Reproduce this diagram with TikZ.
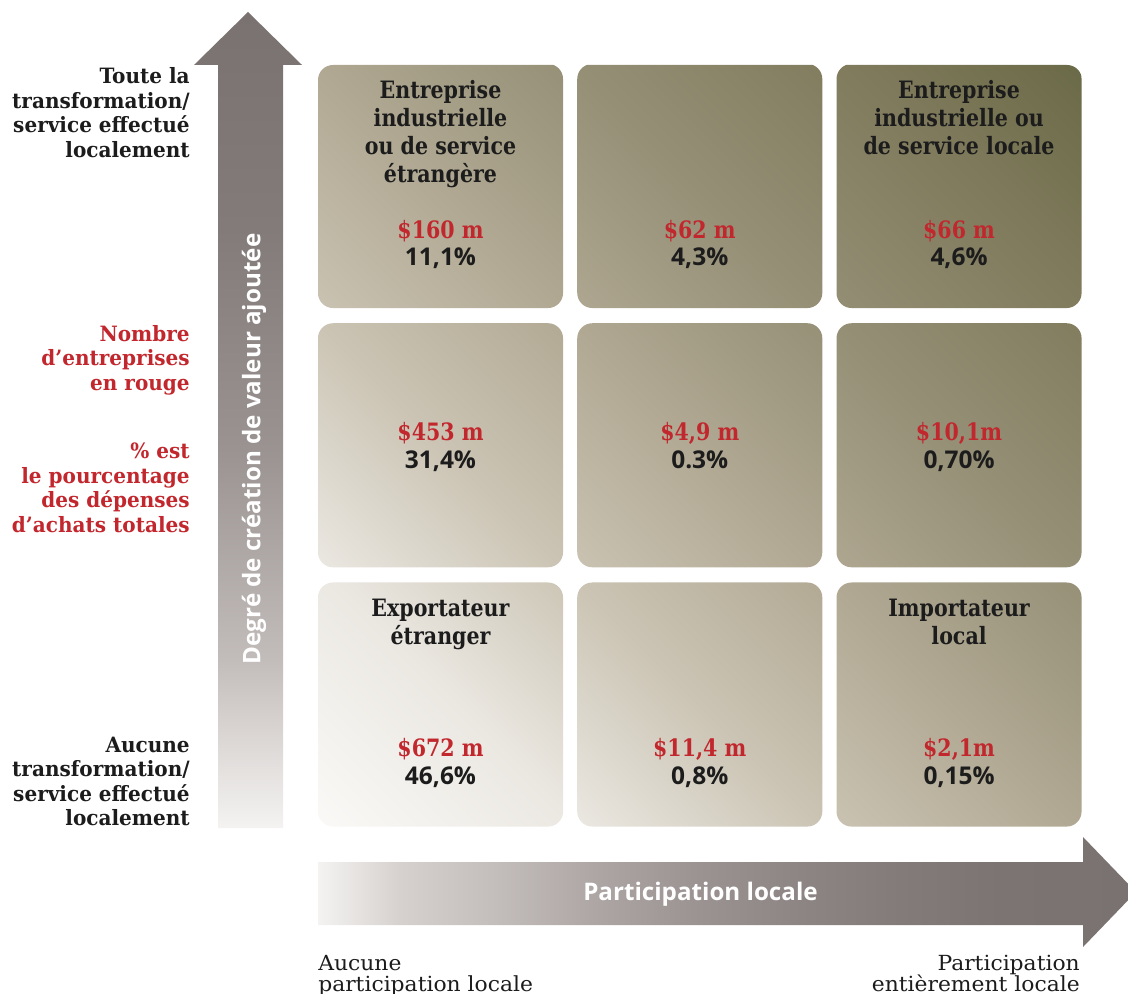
\documentclass[tikz,border=0pt]{standalone}
\usepackage{fontspec}
\usepackage{xcolor}
\usetikzlibrary{shapes, arrows, positioning}

\setmainfont{DejaVu Serif}
\newfontfamily\headfont{DejaVu Serif}[FakeStretch=0.86]
\newfontfamily\sidefont{DejaVu Serif}[FakeStretch=0.95]
\newfontfamily\footfont{DejaVu Serif}[FakeStretch=1.05]
\newfontfamily\pctfont{Open Sans}
\newfontfamily\axisfont{Open Sans}

\definecolor{valred}{RGB}{193,39,45}
\definecolor{ink}{RGB}{28,28,28}

% cell colours, from the light corner to the olive one
\definecolor{cellA}{HTML}{FAF9F7}
\definecolor{cellB}{HTML}{EBE8E2}
\definecolor{cellC}{HTML}{CBC4B4}
\definecolor{cellD}{HTML}{B0A892}
\definecolor{cellE}{HTML}{958F76}
\definecolor{cellF}{HTML}{827D5F}
\definecolor{cellG}{HTML}{6B6A48}

% axis greys
\definecolor{axisA}{HTML}{F4F3F2}
\definecolor{axisB}{HTML}{D6D1CF}
\definecolor{axisC}{HTML}{C2BCBA}
\definecolor{axisD}{HTML}{ACA5A3}
\definecolor{axisE}{HTML}{9A9391}
\definecolor{axisF}{HTML}{8C8583}
\definecolor{axisG}{HTML}{827B79}
\definecolor{axisH}{HTML}{7B7472}
\definecolor{axisI}{HTML}{797270}

% rotated by 45 degrees the grid corners land near 14.6bp and 85.4bp
\pgfdeclarehorizontalshading{cellshade}{100bp}{color(0bp)=(cellA); color(14.6bp)=(cellA);
  color(26.6bp)=(cellB); color(38bp)=(cellC); color(50bp)=(cellD);
  color(62bp)=(cellE); color(73.4bp)=(cellF); color(85.4bp)=(cellG); color(100bp)=(cellG)}
\pgfdeclareverticalshading{upshade}{100bp}{color(0bp)=(axisA); color(25bp)=(axisA);
  color(31.6bp)=(axisB); color(35.3bp)=(axisC); color(48.2bp)=(axisE);
  color(61.7bp)=(axisG); color(75bp)=(axisI); color(100bp)=(axisI)}
\pgfdeclarehorizontalshading{rightshade}{100bp}{color(0bp)=(axisA); color(25bp)=(axisA);
  color(30bp)=(axisB); color(36.1bp)=(axisC); color(42.2bp)=(axisD); color(48.3bp)=(axisE);
  color(54.5bp)=(axisF); color(60.6bp)=(axisG); color(66.7bp)=(axisH); color(75bp)=(axisI);
  color(100bp)=(axisI)}

\begin{document}
\begin{tikzpicture}[x=0.025cm, y=0.025cm, node distance=6.48cm]

\tikzstyle{cell} = [rectangle, rounded corners=0.375cm, minimum width=6.125cm, minimum height=6.1cm, inner sep=0pt, outer sep=0pt, path picture={\shade[shading=cellshade, shading angle=45] (gridsw) rectangle (gridne);}]
\tikzstyle{title} = [anchor=north, align=center, inner sep=0pt, text=ink, font=\headfont\bfseries\fontsize{17}{19.9}\selectfont]
\tikzstyle{money} = [anchor=base, inner sep=0pt, text=valred, font=\headfont\bfseries\fontsize{17}{20}\selectfont]
\tikzstyle{share} = [anchor=base, inner sep=0pt, text=ink, font=\pctfont\bfseries\fontsize{17.4}{20}\selectfont]
\tikzstyle{sidelabel} = [anchor=east, align=right, inner sep=0pt, text=ink, font=\sidefont\bfseries\fontsize{15}{17.4}\selectfont]
\tikzstyle{legend} = [sidelabel, text=valred]
\tikzstyle{footlabel} = [inner sep=0pt, text=ink, font=\footfont\fontsize{14.8}{15.2}\selectfont]
\tikzstyle{axislabel} = [inner sep=0pt, text=white, font=\axisfont\bfseries\fontsize{17.2}{20}\selectfont]

\useasboundingbox (0,0) rectangle (1128,993);
\coordinate (gridsw) at (318,165);
\coordinate (gridne) at (1082,928);

% the two axes
\shade[shading=upshade] (218,165) -- (218,928) -- (194,928) -- (248,981) -- (302,928) -- (283,928) -- (283,165) -- cycle;
\shade[shading=rightshade] (318,131) -- (1083,131) -- (1083,156) -- (1136,101) -- (1083,46) -- (1083,68) -- (318,68) -- cycle;
\node (valueaxis) [axislabel, rotate=90] at (254,544) {Degré de création de valeur ajoutée};
\node (localaxis) [axislabel] at (700.5,99) {Participation locale};

% grid of cells
\node (c11) [cell] at (440.5,807) {};
\node (c12) [cell, right of=c11] {};
\node (c13) [cell, right of=c12] {};
\node (c21) [cell, below of=c11] {};
\node (c22) [cell, right of=c21] {};
\node (c23) [cell, right of=c22] {};
\node (c31) [cell, below of=c21] {};
\node (c32) [cell, right of=c31] {};
\node (c33) [cell, right of=c32] {};

\node (t11) [node distance=2.65cm, above of=c11, title] {Entreprise\\industrielle\\ou de service\\étrangère};
\node (t13) [node distance=2.65cm, above of=c13, title] {Entreprise\\industrielle ou\\de service locale};
\node (t31) [node distance=2.65cm, above of=c31, title] {Exportateur\\étranger};
\node (t33) [node distance=2.65cm, above of=c33, title] {Importateur\\local};

% amounts and shares
\node (m11) [node distance=1.3cm, below of=c11, money] {\$160 m};
\node (p11) [node distance=1.99cm, below of=c11, share] {11,1\%};
\node (m12) [node distance=1.3cm, below of=c12, money] {\$62 m};
\node (p12) [node distance=1.99cm, below of=c12, share] {4,3\%};
\node (m13) [node distance=1.3cm, below of=c13, money] {\$66 m};
\node (p13) [node distance=1.99cm, below of=c13, share] {4,6\%};
\node (m21) [node distance=0.125cm, above of=c21, money] {\$453 m};
\node (p21) [node distance=0.58cm, below of=c21, share] {31,4\%};
\node (m22) [node distance=0.125cm, above of=c22, money] {\$4,9 m};
\node (p22) [node distance=0.58cm, below of=c22, share] {0.3\%};
\node (m23) [node distance=0.125cm, above of=c23, money] {\$10,1m};
\node (p23) [node distance=0.58cm, below of=c23, share] {0,70\%};
\node (m31) [node distance=1.3cm, below of=c31, money] {\$672 m};
\node (p31) [node distance=1.99cm, below of=c31, share] {46,6\%};
\node (m32) [node distance=1.3cm, below of=c32, money] {\$11,4 m};
\node (p32) [node distance=1.99cm, below of=c32, share] {0,8\%};
\node (m33) [node distance=1.3cm, below of=c33, money] {\$2,1m};
\node (p33) [node distance=1.99cm, below of=c33, share] {0,15\%};

% side and bottom labels
\node (toplab) [sidelabel] at (190,880.5) {Toute la\\transformation/\\service effectué\\localement};
\node (countlab) [legend] at (190,633) {Nombre\\d’entreprises\\en rouge};
\node (sharelab) [legend] at (190,505) {\% est\\le pourcentage\\des dépenses\\d’achats totales};
\node (bottomlab) [sidelabel] at (190,211.5) {Aucune\\transformation/\\service effectué\\localement};
\node (nolocal) [footlabel, anchor=north west, align=left] at (318,38) {Aucune\\participation locale};
\node (alllocal) [footlabel, anchor=north east, align=right] at (1080,38) {Participation\\entièrement locale};
\end{tikzpicture}
\end{document}
